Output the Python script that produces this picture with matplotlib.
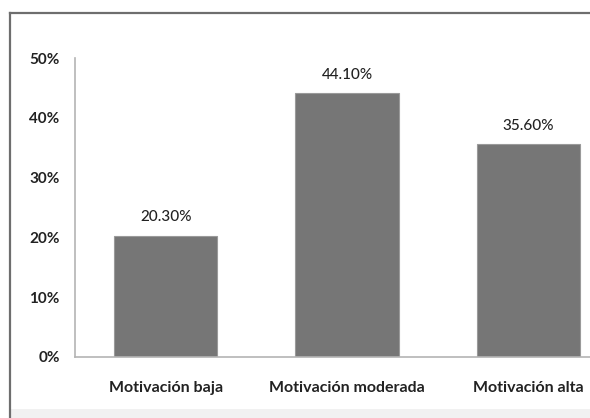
import matplotlib
matplotlib.use("Agg")
import matplotlib.pyplot as plt
from matplotlib.lines import Line2D
from matplotlib.patches import Rectangle
import numpy as np

categories = ["Motivación baja", "Motivación moderada", "Motivación alta"]
values = [20.3, 44.1, 35.6]
value_labels = ["20.30%", "44.10%", "35.60%"]
yticks = [0, 10, 20, 30, 40, 50]
ytick_labels = ["0%", "10%", "20%", "30%", "40%", "50%"]

plt.rcParams["font.family"] = ["Lato", "DejaVu Sans"]

W, H = 590, 418
fig = plt.figure(figsize=(W / 100, H / 100), dpi=100)
fig.patch.set_facecolor("white")

# outer frame: dark top and left edges, soft grey band at the bottom
fig.add_artist(Rectangle((11 / W, 0), 1, 9 / H, transform=fig.transFigure,
                         facecolor="#f1f1f1", edgecolor="none"))
fig.add_artist(Line2D([10 / W, 1.0], [1 - 13 / H, 1 - 13 / H],
                      transform=fig.transFigure, color="#6e6e6e", lw=1.6))
fig.add_artist(Line2D([10 / W, 10 / W], [1 - 13 / H, 0.0],
                      transform=fig.transFigure, color="#6e6e6e", lw=1.6))

ax = fig.add_axes([75 / W, 61 / H, 544 / W, 299 / H])
x = np.arange(len(categories))
ax.bar(x, values, width=0.57, color="#767676", edgecolor="#9a9a9a", linewidth=0.8)

for xi, v, lab in zip(x, values, value_labels):
    ax.text(xi, v + 1.9, lab, ha="center", va="bottom", fontsize=11,
            fontweight="medium", color="#222222")

ax.set_xlim(-0.5, 2.5)
ax.set_ylim(0, 50)
ax.set_yticks(yticks)
ax.set_yticklabels(ytick_labels, fontsize=11, fontweight="bold", color="#222222")
ax.set_xticks(x)
ax.set_xticklabels(categories, fontsize=11.5, fontweight="bold", color="#222222")
ax.tick_params(axis="both", length=0)
ax.tick_params(axis="y", pad=11)
ax.tick_params(axis="x", pad=17)

for s in ["top", "right"]:
    ax.spines[s].set_visible(False)
for s in ["left", "bottom"]:
    ax.spines[s].set_color("#b4b4b4")
    ax.spines[s].set_linewidth(1.2)

fig.savefig("out.png", dpi=100, facecolor="white")
